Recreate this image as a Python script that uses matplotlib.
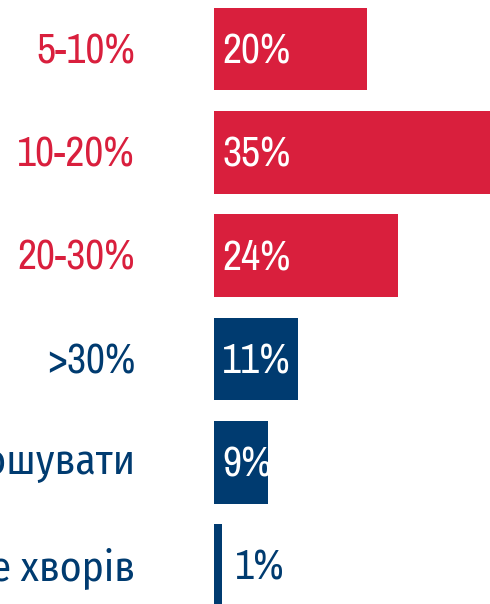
import matplotlib
matplotlib.use("Agg")
import matplotlib.pyplot as plt
from matplotlib import font_manager

# survey answers, top to bottom
categories = ["5-10%", "10-20%", "20-30%", ">30%", "Не можу розголошувати", "Ніхто не хворів"]
shares = ["20%", "35%", "24%", "11%", "9%", "1%"]
# bar lengths as drawn in the picture
bar_len = [20, 36, 24, 11, 7, 1]

red = "#D91F3D"
navy = "#003B70"
colors = [red, red, red, navy, navy, navy]

names = sorted({f.name for f in font_manager.fontManager.ttflist})
narrow = [n for n in names if "Narrow" in n or "Condensed" in n]
print(narrow)
fam = narrow + ["Roboto"] if narrow else ["Roboto"]

fig = plt.figure(figsize=(4.9, 6.04), dpi=100)
ax = fig.add_axes([214 / 490, 0, 276 / 490, 1])

ypos = list(range(len(categories)))
ax.barh(ypos, bar_len, height=0.8, color=colors, left=0)
ax.set_xlim(0, 36)
ax.set_ylim(5.37, -0.474)
ax.axis("off")

for i in ypos:
    # category name to the left of the bars
    ax.text(-79 / 7.667, i + 0.02, categories[i], ha="right", va="center",
            fontsize=30, family=fam, color=colors[i], clip_on=False)
    if bar_len[i] > 3:
        ax.text(1.1, i + 0.02, shares[i], ha="left", va="center",
                fontsize=30, family=fam, color="white")
    else:
        ax.text(bar_len[i] + 1.7, i + 0.02, shares[i], ha="left", va="center",
                fontsize=30, family=fam, color=colors[i])

fig.savefig("out.png", dpi=100)
